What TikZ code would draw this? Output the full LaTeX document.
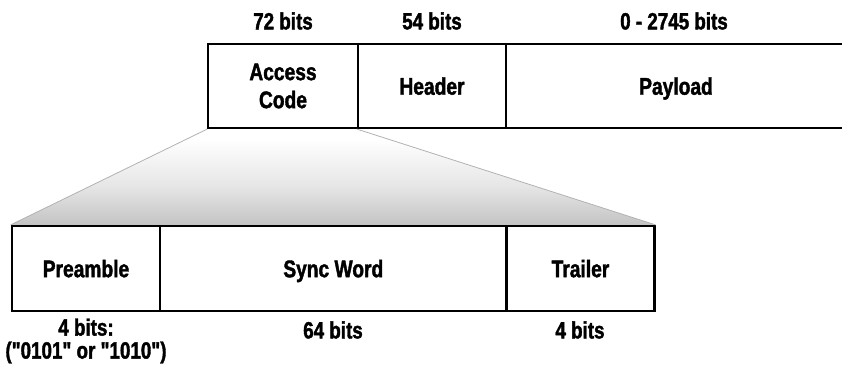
\documentclass[tikz,border=0pt]{standalone}
\usepackage{fontspec}
\newfontfamily\cf{Liberation Sans Bold}[FakeStretch=0.8, FakeBold=1.6]
\usetikzlibrary{backgrounds}
\pgfdeclareverticalshading{fan}{100bp}{color(0bp)=(black!36); color(15bp)=(black!30); color(45bp)=(black!10); color(70bp)=(white); color(100bp)=(white)}
\tikzset{
  box/.style={draw=black, line width=2.2pt, inner sep=0pt, align=center,
    font=\fontsize{24}{28}\cf},
  one/.style={text depth=0pt},
  lbl/.style={inner sep=0pt, align=center, font=\fontsize{23.5}{23}\cf},
  fanline/.style={draw=black!30, line width=0.8pt}
}
\begin{document}
\begin{tikzpicture}[x=1pt,y=-1pt]
\useasboundingbox (0,0) rectangle (842,369);
% top frame
\node[box, minimum width=149.5pt, minimum height=84pt] (ac) at (283,86) {Access\\Code};
\node[box, one, minimum width=148pt, minimum height=84pt] (hd) at (432,86) {Header};
\node[box, one, minimum width=340pt, minimum height=84pt] (pl) at (676,86) {Payload};
% lower frame
\node[box, one, minimum width=148.5pt, minimum height=85pt] (pre) at (86,268.5) {Preamble};
\node[box, one, minimum width=346.5pt, minimum height=85pt] (sw) at (333.3,268.5) {Sync Word};
\node[box, one, minimum width=148pt, minimum height=85pt] (tr) at (580.5,268.5) {Trailer};
% fan
\begin{scope}[on background layer]
\shade[shading=fan] (ac.south west) -- (hd.south west) -- (tr.north east) -- (pre.north west) -- cycle;
\end{scope}
\draw[fanline] (ac.south west) -- (pre.north west);
\draw[fanline] (hd.south west) -- (tr.north east);
% labels
\node[lbl] (l72) at (283,21) {72 bits};
\node[lbl] (l54) at (432,21) {54 bits};
\node[lbl] (lpl) at (674,21) {0 - 2745 bits};
\node[lbl] (lpre) at (86,341) {4 bits:\\("0101" or "1010")};
\node[lbl] (lsw) at (333,330) {64 bits};
\node[lbl] (ltr) at (580,330) {4 bits};
\end{tikzpicture}
\end{document}
